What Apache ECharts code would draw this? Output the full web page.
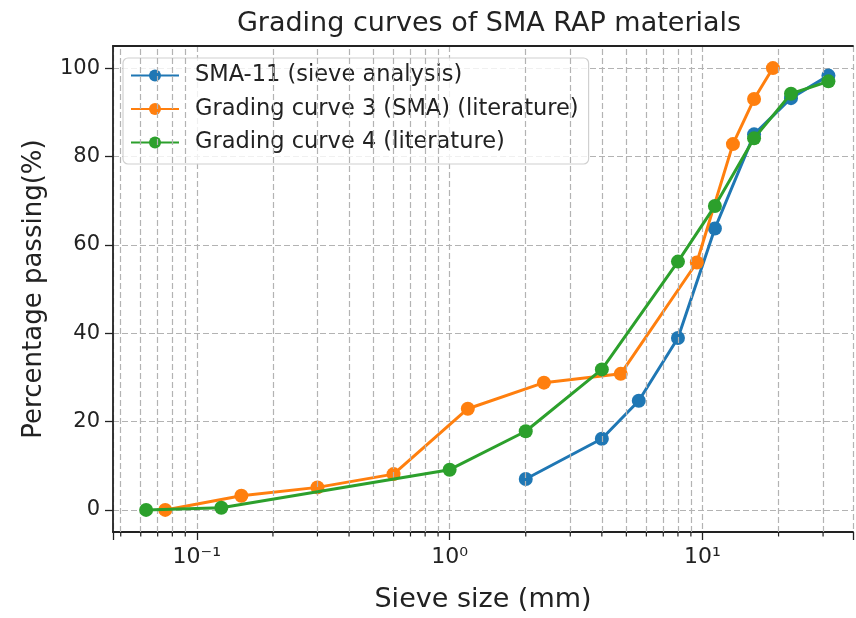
<!DOCTYPE html>
<html>
<head>
<meta charset="utf-8">
<script src="https://cdn.jsdelivr.net/npm/echarts@6/dist/echarts.min.js"></script>
<style>html,body{margin:0;padding:0;background:#fff;}#c{width:856px;height:618px;}</style>
</head>
<body>
<div id="c"></div>
<script>
// Data
const smaSizes = [2, 4, 5.6, 8, 11.2, 16, 22.4, 31.5];
const smaPassing = [7, 16.1, 24.7, 38.9, 63.7, 85, 93.2, 98.3];
const gc3Sizes = [0.075, 0.15, 0.3, 0.6, 1.18, 2.36, 4.75, 9.5, 13.2, 16, 19];
const gc3Passing = [0, 3.2, 5.1, 8.1, 22.9, 28.8, 30.8, 56, 82.8, 93, 100];
const gc4Sizes = [0.063, 0.125, 1, 2, 4, 8, 11.2, 16, 22.4, 31.5];
const gc4Passing = [0, 0.5, 9.1, 17.8, 31.8, 56.2, 68.8, 84.1, 94.2, 97];
const seriesNames = ['SMA-11 (sieve analysis)', 'Grading curve 3 (SMA) (literature)', 'Grading curve 4 (literature)'];
const colors = ['#1f77b4', '#ff7f0e', '#2ca02c'];
const yTicks = [0, 20, 40, 60, 80, 100];
const xTickLabels = {'0.1': '10\u207B\u00B9', '1': '10\u2070', '10': '10\u00B9'};
const minorXValues = [0.05, 0.06, 0.07, 0.08, 0.09, 0.2, 0.3, 0.4, 0.5, 0.6, 0.7, 0.8, 0.9, 2, 3, 4, 5, 6, 7, 8, 9, 20, 30];

const FONT = 'DejaVu Sans';
const TXT = '#222';
const GRIDC = '#b3b3b3';
const pairs = (xs, ys) => xs.map((x, i) => [x, ys[i]]);
const mkSeries = (i, xs, ys) => ({
  name: seriesNames[i], type: 'line', data: pairs(xs, ys),
  symbol: 'circle', symbolSize: 14,
  lineStyle: {width: 3, color: colors[i]}, itemStyle: {color: colors[i]},
  emphasis: {disabled: true},
  z: 3 + i
});

const chart = echarts.init(document.getElementById('c'), null, {renderer: 'canvas'});
const minorGrid = {
  type: 'line', data: [], silent: true, z: 1,
  markLine: {
    silent: true, symbol: 'none', label: {show: false},
    lineStyle: {color: GRIDC, type: [6, 3], width: 1.2},
    emphasis: {disabled: true},
    data: minorXValues.map(v => ({xAxis: v}))
  }
};
const minorTicks = {
  type: 'custom', silent: true, z: 2, clip: false,
  data: minorXValues.map(v => [v, -5]),
  renderItem: (params, api) => {
    const p = api.coord([api.value(0), api.value(1)]);
    return {type: 'line', shape: {x1: p[0], y1: p[1], x2: p[0], y2: p[1] + 4.5},
      style: {stroke: TXT, lineWidth: 1.2}};
  }
};
chart.setOption({
  animation: false,
  backgroundColor: '#fff',
  color: colors,
  title: {text: 'Grading curves of SMA RAP materials', left: 484, top: 5, textAlign: 'center',
    textStyle: {fontFamily: FONT, fontSize: 27, fontWeight: 'normal', color: TXT}},
  grid: {left: 113, top: 46, bottom: 85, right: 0, containLabel: false},
  legend: {
    data: seriesNames, orient: 'vertical', left: 123, top: 58, itemGap: 10.5,
    itemWidth: 48, itemHeight: 15,
    backgroundColor: 'rgba(255,255,255,0.8)', borderColor: '#d0d0d0', borderWidth: 1.2, borderRadius: 5,
    padding: [6, 10, 10, 7],
    textStyle: {fontFamily: FONT, fontSize: 22.5, color: TXT, padding: [0, 0, 0, 11]}
  },
  xAxis: [{
    type: 'log', logBase: 10, min: 0.0466, max: 39.4,
    name: 'Sieve size (mm)', nameLocation: 'middle', nameGap: 54,
    nameTextStyle: {fontFamily: FONT, fontSize: 27, color: TXT},
    axisLine: {onZero: false, lineStyle: {color: TXT, width: 1.8}},
    axisTick: {show: true, length: 8, lineStyle: {color: TXT, width: 1.3}},
    axisLabel: {fontFamily: FONT, fontSize: 22, color: TXT, margin: 14,
      formatter: v => xTickLabels[String(+v.toPrecision(6))] || ''},
    splitLine: {show: true, lineStyle: {color: GRIDC, type: [6, 3], width: 1.2}},
    minorTick: {show: false}, minorSplitLine: {show: false}
  }, {
    type: 'log', logBase: 10, min: 0.0466, max: 39.4, position: 'top',
    axisLine: {show: true, onZero: false, lineStyle: {color: TXT, width: 1.8}},
    axisTick: {show: false}, axisLabel: {show: false}, splitLine: {show: false}
  }],
  yAxis: {
    type: 'value', min: -5, max: 105,
    name: 'Percentage passing(%)', nameLocation: 'middle', nameGap: 66,
    nameTextStyle: {fontFamily: FONT, fontSize: 26, color: TXT},
    axisLine: {show: true, lineStyle: {color: TXT, width: 1.8}},
    axisTick: {show: true, length: 8, customValues: yTicks, lineStyle: {color: TXT, width: 1.3}},
    axisLabel: {fontFamily: FONT, fontSize: 21, color: TXT, margin: 13, customValues: yTicks},
    splitLine: {show: true, lineStyle: {color: GRIDC, type: [6, 3], width: 1.2}}
  },
  series: [
    minorGrid, minorTicks,
    mkSeries(0, smaSizes, smaPassing),
    mkSeries(1, gc3Sizes, gc3Passing),
    mkSeries(2, gc4Sizes, gc4Passing)
  ]
});
</script>
</body>
</html>
